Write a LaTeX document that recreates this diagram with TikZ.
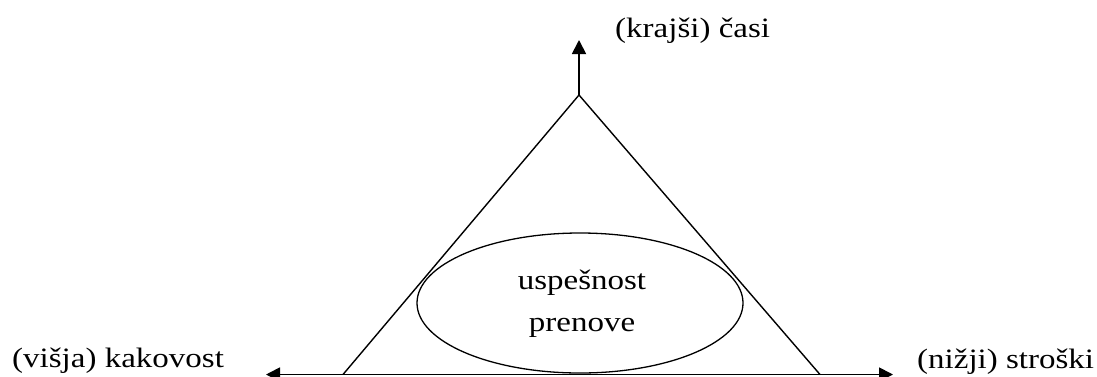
\documentclass[tikz,border=0pt]{standalone}
\usepackage{fontspec}
\setmainfont{Liberation Serif}
\usetikzlibrary{arrows.meta,shapes.geometric}
\newcommand\squash[1]{\scalebox{1}[0.85]{#1}}
\begin{document}
\begin{tikzpicture}[x=1pt,y=-1pt,
  lbl/.style={font=\fontsize{33}{42}\selectfont, inner sep=0pt},
  axis/.style={line width=1.8pt, -{Triangle[length=14pt,width=14pt]}},
  edge/.style={line width=1.4pt}]
\useasboundingbox (0,0) rectangle (1097,376);
\coordinate (apex) at (579,95);
\coordinate (bl) at (343,374.5);
\coordinate (br) at (820,374.5);
\coordinate (up) at (579,40);
\coordinate (lt) at (266,374.5);
\coordinate (rt) at (893,374.5);
\node[draw, ellipse, line width=1.3pt, minimum width=326pt, minimum height=140pt, inner sep=0pt] (ell) at (580,303) {};
\draw[edge] (bl) -- (apex) -- (br);
\draw[line width=1.8pt] (bl) -- (br);
\draw[axis] (apex) -- (up);
\draw[axis] (bl) -- (lt);
\draw[axis] (br) -- (rt);
\node[lbl, align=center] (succ) at (582,304) {\squash{uspešnost}\\\squash{prenove}};
\node[lbl, anchor=west] (time) at (615,31) {\squash{(krajši) časi}};
\node[lbl, anchor=west] (qual) at (12,361) {\squash{(višja) kakovost}};
\node[lbl, anchor=west] (cost) at (917,362) {\squash{(nižji) stroški}};
\end{tikzpicture}
\end{document}
